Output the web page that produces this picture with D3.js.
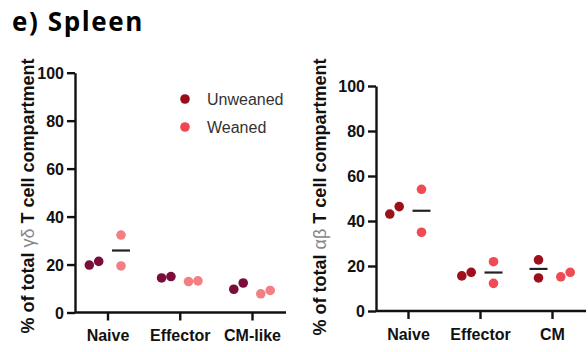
<!DOCTYPE html>
<html>
<head>
<meta charset="utf-8">
<script src="https://cdn.jsdelivr.net/npm/d3@7"></script>
<style>
  body { margin: 0; background: #fff; }
  svg text { font-family: "Liberation Sans", Arial, sans-serif; }
</style>
</head>
<body>
<div id="chart"></div>
<script>
// values (% of compartment), two animals per group
const categoriesGD = ["Naive", "Effector", "CM-like"];
const gdUnweaned = [[19.8, 21.3], [14.4, 15.0], [9.7, 12.3]];
const gdWeaned = [[19.4, 32.3], [12.9, 13.2], [7.8, 9.2]];

const categoriesAB = ["Naive", "Effector", "CM"];
const abUnweaned = [[43.1, 46.4], [15.6, 17.2], [14.7, 22.7]];
const abWeaned = [[35.0, 54.1], [12.3, 21.9], [15.2, 17.2]];

const yTicks = [0, 20, 40, 60, 80, 100];
const legendLabels = ["Unweaned", "Weaned"];

const width = 588, height = 352;
const svg = d3.select("#chart").append("svg")
    .attr("width", width)
    .attr("height", height);

svg.append("text")
    .attr("x", 12)
    .attr("y", 31)
    .style("font-family", "'Open Sans', Lato, sans-serif")
    .style("font-weight", "bold")
    .style("font-size", "26px")
    .style("letter-spacing", "1.6px")
    .text("e) Spleen");

function panel(opts) {
    const g = svg.append("g");
    const y = d3.scaleLinear().domain([0, 100]).range([opts.y0, opts.y1]);
    const x = d3.scalePoint().domain(opts.categories).range([opts.xa, opts.xb]);

    // y axis
    const ya = g.append("g")
        .attr("transform", `translate(${opts.axisX},0)`)
        .call(d3.axisLeft(y).tickValues(yTicks).tickSize(8).tickSizeOuter(0).tickPadding(3));
    ya.selectAll("path, line").attr("stroke", "#111").attr("stroke-width", 2.4);
    ya.selectAll("text").style("font-size", "16px").style("font-weight", "bold")
        .attr("fill", "#111").attr("dy", "0.36em");

    // x axis
    const xa = g.append("g")
        .attr("transform", `translate(0,${opts.y0})`)
        .call(d3.axisBottom(x).tickSize(8).tickSizeOuter(0).tickPadding(7));
    xa.select(".domain").remove();
    xa.append("line")
        .attr("x1", opts.axisX).attr("x2", opts.axisEnd)
        .attr("stroke", "#111").attr("stroke-width", 2.4);
    xa.selectAll(".tick line").attr("stroke", "#111").attr("stroke-width", 2.4);
    xa.selectAll("text").style("font-size", "16px").style("font-weight", "bold")
        .attr("fill", "#111").attr("dy", "0.85em");

    // y label
    const lab = g.append("text")
        .attr("transform", `translate(${opts.labelX},${opts.labelY}) rotate(-90)`)
        .attr("text-anchor", "middle")
        .style("font-size", "18px")
        .style("font-weight", "bold")
        .attr("fill", "#111");
    lab.append("tspan").text("% of total ");
    lab.append("tspan").text(opts.greek).style("font-weight", "normal").attr("fill", "#888");
    lab.append("tspan").text(" T cell compartment");

    // groups of points
    const groups = [];
    opts.categories.forEach((c, i) => {
        groups.push({ cat: c, vals: opts.unweaned[i], off: -13.5, color: opts.colors[0] });
        groups.push({ cat: c, vals: opts.weaned[i], off: 13.5, color: opts.colors[1] });
    });

    groups.forEach(gr => {
        const cx = x(gr.cat) + gr.off;
        const sorted = gr.vals.slice().sort((a, b) => a - b);
        const close = Math.abs(y(sorted[0]) - y(sorted[1])) < 10;
        const mean = d3.mean(sorted);
        // mean bar ends up hidden behind side-by-side dots, so only draw it when visible
        if (!close) {
            g.append("line")
                .attr("x1", cx - 9).attr("x2", cx + 9)
                .attr("y1", y(mean)).attr("y2", y(mean))
                .attr("stroke", "#222").attr("stroke-width", 2.2);
        }
        g.selectAll(null)
            .data(sorted)
            .enter()
            .append("circle")
            .attr("cx", (d, k) => close ? cx + (k === 0 ? -4.7 : 4.7) : cx)
            .attr("cy", d => y(d))
            .attr("r", 4.8)
            .attr("fill", gr.color);
    });
}

panel({
    categories: categoriesGD, unweaned: gdUnweaned, weaned: gdWeaned,
    y0: 312.5, y1: 72.7, xa: 107.5, xb: 252, axisX: 75, axisEnd: 286,
    labelX: 34, labelY: 196, greek: "γδ",
    colors: ["#7a0d3c", "#f27f82"]
});

panel({
    categories: categoriesAB, unweaned: abUnweaned, weaned: abWeaned,
    y0: 311, y1: 86, xa: 408, xb: 552, axisX: 376, axisEnd: 586,
    labelX: 326, labelY: 197, greek: "αβ",
    colors: ["#9e0f1c", "#f04b55"]
});

// legend
const legColors = ["#9b0b1a", "#f2454f"];
const leg = svg.append("g");
legendLabels.forEach((l, i) => {
    const yy = 99 + i * 28;
    leg.append("circle").attr("cx", 185).attr("cy", yy).attr("r", 4.8).attr("fill", legColors[i]);
    leg.append("text").attr("x", 207).attr("y", yy).attr("dy", "0.36em")
        .style("font-size", "16px").attr("fill", "#333").text(l);
});
</script>
</body>
</html>
